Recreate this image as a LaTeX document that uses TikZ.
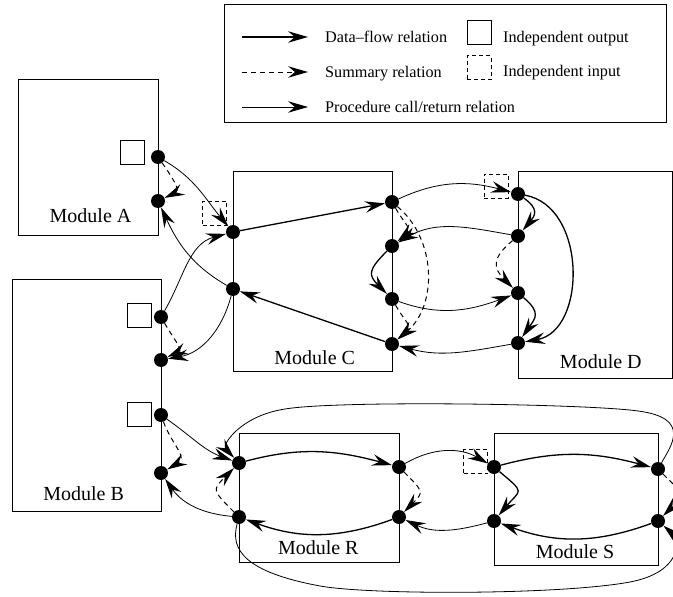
\documentclass[tikz,border=0pt]{standalone}
\usepackage{fontspec}
\setmainfont{Liberation Serif}
\usetikzlibrary{arrows.meta}
\begin{document}
\begin{tikzpicture}[x=1pt,y=1pt,
  box/.style={draw, line width=0.8pt, inner sep=0pt, anchor=north west},
  dot/.style={circle, fill, inner sep=0pt, minimum size=14pt},
  osq/.style={draw, line width=0.8pt, inner sep=0pt, minimum width=24pt, minimum height=24pt},
  isq/.style={osq, dash pattern=on 4pt off 3pt},
  tip/.style={-{Stealth[length=20pt,width=11.5pt,inset=7pt]}},
  flow/.style={tip, line width=1.3pt},
  callret/.style={tip, line width=0.8pt},
  summ/.style={tip, line width=1pt, dash pattern=on 5pt off 4pt},
  modlbl/.style={font=\fontsize{20}{24}\selectfont, anchor=base, inner sep=0pt},
  leg/.style={font=\fontsize{16.2}{19}\selectfont, anchor=base west, inner sep=0pt}]
\useasboundingbox (0,0) rectangle (673,-597);
\clip (0,0) rectangle (673,-597);

% legend
\node[box, minimum width=442pt, minimum height=118pt] (legend) at (224,-4) {};
\coordinate (l1a) at (242,-37); \coordinate (l1b) at (308,-37);
\coordinate (l2a) at (242,-72); \coordinate (l2b) at (308,-72);
\coordinate (l3a) at (242,-107); \coordinate (l3b) at (308,-107);
\draw[flow] (l1a) -- (l1b);
\draw[summ] (l2a) -- (l2b);
\draw[callret] (l3a) -- (l3b);
\node[leg] (t1) at (325,-42.5) {Data–flow relation};
\node[leg] (t2) at (325,-77) {Summary relation};
\node[leg] (t3) at (325,-112) {Procedure call/return relation};
\node[osq] (lsq1) at (479,-32.5) {};
\node[isq] (lsq2) at (479,-67.5) {};
\node[leg] (t4) at (503,-42.5) {Independent output};
\node[leg] (t5) at (503,-76.5) {Independent input};

% modules
\node[box, minimum width=140pt, minimum height=156pt] (modA) at (18,-79) {};
\node[box, minimum width=149pt, minimum height=232pt] (modB) at (12,-279) {};
\node[box, minimum width=159pt, minimum height=200pt] (modC) at (233,-171) {};
\node[box, minimum width=154pt, minimum height=207pt] (modD) at (518,-171) {};
\node[box, minimum width=160pt, minimum height=129pt] (modR) at (239,-433) {};
\node[box, minimum width=164pt, minimum height=132pt] (modS) at (494,-433) {};
\node[modlbl] (labA) at (90.5,-222) {Module A};
\node[modlbl] (labB) at (83.6,-500) {Module B};
\node[modlbl] (labC) at (314.7,-364.3) {Module C};
\node[modlbl] (labD) at (600.8,-368.3) {Module D};
\node[modlbl] (labR) at (318.3,-554) {Module R};
\node[modlbl] (labS) at (575,-558.3) {Module S};

% independent output / input squares
\node[osq] (sqA) at (132,-152) {};
\node[osq] (sqB1) at (139,-315) {};
\node[osq] (sqB2) at (139,-414) {};
\node[isq] (sqC) at (214.5,-213) {};
\node[isq] (sqD) at (496,-186) {};
\node[isq] (sqS) at (475.5,-461.5) {};

% dots
\node[dot] (A1) at (158,-157) {};
\node[dot] (A2) at (158,-201) {};
\node[dot] (B1) at (161,-317) {};
\node[dot] (B2) at (161,-360) {};
\node[dot] (B3) at (161,-415) {};
\node[dot] (B4) at (161,-473) {};
\node[dot] (C1) at (233,-232) {};
\node[dot] (C2) at (233,-289) {};
\node[dot] (C3) at (392,-202) {};
\node[dot] (C4) at (392,-246) {};
\node[dot] (C5) at (392,-299) {};
\node[dot] (C6) at (392,-344) {};
\node[dot] (D1) at (518,-194) {};
\node[dot] (D2) at (518,-236) {};
\node[dot] (D3) at (518,-293) {};
\node[dot] (D4) at (518,-343) {};
\node[dot] (R1) at (239,-463) {};
\node[dot] (R2) at (239,-517) {};
\node[dot] (R3) at (399,-467) {};
\node[dot] (R4) at (399,-517) {};
\node[dot] (S1) at (494,-467) {};
\node[dot] (S2) at (494,-521) {};
\node[dot] (S3) at (658,-469) {};
\node[dot] (S4) at (658,-521) {};

% A, B, C connections
\draw[callret] (A1) to[out=-30,in=130] (C1);
\draw[summ] (A1) to[out=-55,in=25,looseness=1.3] (A2);
\draw[callret] (C2) to[out=150,in=-65] (A2);
\draw[callret] (B1) to[out=60,in=195] (C1);
\draw[callret] (C2) to[out=-105,in=10] (B2);
\draw[summ] (B1) to[out=-60,in=25,looseness=1.3] (B2);
\draw[callret] (B3) to[out=-35,in=160] (R1);
\draw[summ] (B3) to[out=-70,in=30,looseness=1.3] (B4);
\draw[callret] (R2) to[out=175,in=-55] (B4);

% R and S
\draw[flow] (R1) to[out=15,in=165] (R3);
\draw[flow] (R4) to[out=200,in=-20] (R2);
\draw[summ] (R2) to[out=135,in=-135,looseness=1.8] (R1);
\draw[summ] (R3) to[out=-45,in=45,looseness=1.8] (R4);
\draw[callret] (R3) to[out=30,in=150] (S1);
\draw[callret] (S2) to[out=195,in=-25] (R4);
\draw[flow] (S1) to[out=15,in=165] (S3);
\draw[flow] (S4) to[out=200,in=-20] (S2);
\draw[flow] (S1) to[out=-40,in=50,looseness=2] (S2);
\draw[summ] (S3) to[out=-45,in=45,looseness=2] (S4);
\draw[callret] (S3) .. controls (671,-446) and (692,-418) .. (638,-411)
   .. controls (590,-404) and (340,-400) .. (285,-409)
   .. controls (240,-416) and (222,-445) .. (R1);
\draw[callret] (R2) .. controls (230,-550) and (245,-572) .. (320,-586)
   .. controls (370,-595) and (560,-595) .. (630,-582)
   .. controls (682,-572) and (680,-540) .. (S4);

% C and D
\draw[flow] (C1) -- (C3);
\draw[flow] (C6) -- (C2);
\draw[flow] (C4) to[out=-135,in=135,looseness=1.6] (C5);
\draw[summ] (C3) to[out=-60,in=40,looseness=1.5] (C4);
\draw[summ] (C3) to[out=-40,in=40] (C6);
\draw[summ] (C5) to[out=-60,in=40,looseness=1.5] (C6);
\draw[callret] (C3) to[out=25,in=165] (D1);
\draw[callret] (D2) to[out=170,in=30] (C4);
\draw[callret] (C5) to[out=-20,in=200] (D3);
\draw[callret] (D4) to[out=190,in=-15] (C6);
\draw[flow] (D1) to[out=-35,in=50,looseness=1.5] (D2);
\draw[flow] (D1) to[out=-10,in=10,looseness=1.1] (D4);
\draw[summ] (D2) to[out=-140,in=135,looseness=1.5] (D3);
\draw[flow] (D3) to[out=-40,in=55,looseness=1.5] (D4);
\end{tikzpicture}
\end{document}
